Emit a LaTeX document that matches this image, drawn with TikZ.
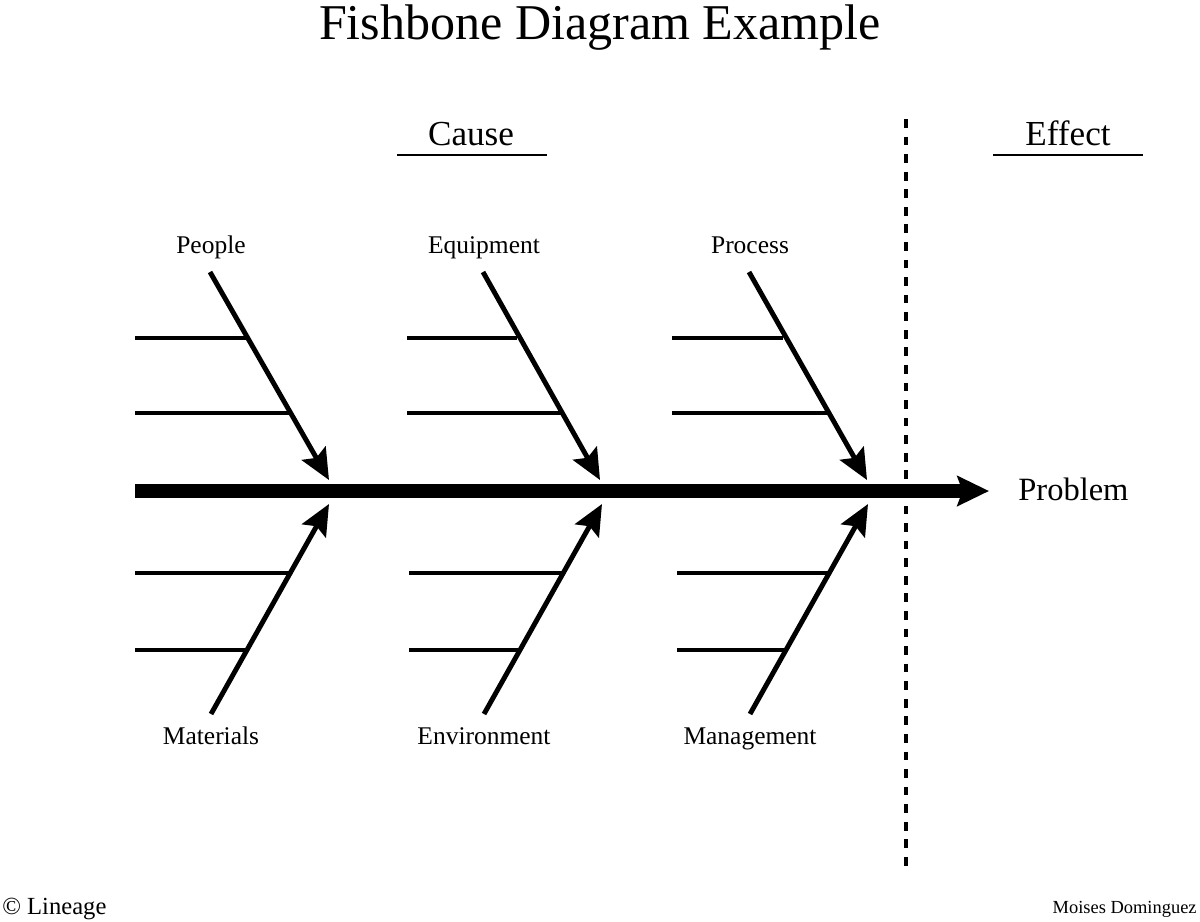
\documentclass[tikz,border=0pt]{standalone}
\usepackage{fontspec}
\setmainfont{Liberation Serif}
\usetikzlibrary{arrows.meta}
\begin{document}
\begin{tikzpicture}[x=0.02cm,y=-0.02cm,
  bone/.style={line width=2.8pt,-{Stealth[length=17.5pt,width=15.5pt,inset=3pt]}},
  rib/.style={line width=2.8pt},
  spine/.style={line width=8pt,-{Stealth[length=18pt,width=17pt,inset=3pt]}},
  cat/.style={font=\fontsize{14.5}{17}\selectfont,inner sep=0pt,anchor=base},
  head/.style={font=\fontsize{20}{24}\selectfont,inner sep=0pt,anchor=base},
  uline/.style={line width=1.6pt},
  divider/.style={line width=1.9pt,dash pattern=on 5pt off 5pt}]
\useasboundingbox[fill=white] (0,0) rectangle (1200,921);

% title
\node[font=\fontsize{28.5}{34}\selectfont,inner sep=0pt,anchor=base] (title) at (600,39) {Fishbone Diagram Example};

% headings
\node[head] (cause) at (471,145) {Cause};
\node[head] (effect) at (1068,145) {Effect};
\coordinate (cuL) at (397,155); \coordinate (cuR) at (547,155);
\coordinate (euL) at (993,155); \coordinate (euR) at (1143,155);
\draw[uline] (cuL) -- (cuR);
\draw[uline] (euL) -- (euR);

% divider
\coordinate (dvT) at (906,119); \coordinate (dvB) at (906,866);
\draw[divider] (dvT) -- (dvB);

% spine
\coordinate (spS) at (135,491);
\coordinate (spE) at (989,491);
\draw[spine] (spS) -- (spE);
\node[font=\fontsize{18.5}{22}\selectfont,inner sep=0pt,anchor=base west] (problem) at (1018,500) {Problem};

% upper bones
\foreach \n/\sx/\tx/\rx/\ra/\rb in {people/210/329/135/247/291, equip/483/600/407/517/561, proc/749/867/672/783/827}{
  \coordinate (\n S) at (\sx,272);
  \coordinate (\n T) at (\tx,480);
  \draw[bone] (\n S) -- (\n T);
  \coordinate (\n a0) at (\rx,338); \coordinate (\n a1) at (\ra,338);
  \coordinate (\n b0) at (\rx,413); \coordinate (\n b1) at (\rb,413);
  \draw[rib] (\n a0) -- (\n a1);
  \draw[rib] (\n b0) -- (\n b1);
}
% lower bones
\foreach \n/\sx/\tx/\rx/\ra/\rb in {mat/211/329/135/292/249, env/484/602/409/563/519, mgmt/750/868/677/831/787}{
  \coordinate (\n S) at (\sx,714);
  \coordinate (\n T) at (\tx,504);
  \draw[bone] (\n S) -- (\n T);
  \coordinate (\n a0) at (\rx,573); \coordinate (\n a1) at (\ra,573);
  \coordinate (\n b0) at (\rx,650); \coordinate (\n b1) at (\rb,650);
  \draw[rib] (\n a0) -- (\n a1);
  \draw[rib] (\n b0) -- (\n b1);
}

% category labels
\node[cat] (lPeople) at (211,253) {People};
\node[cat] (lEquip) at (484,253) {Equipment};
\node[cat] (lProc) at (750,253) {Process};
\node[cat] (lMat) at (211,744) {Materials};
\node[cat] (lEnv) at (484,744) {Environment};
\node[cat] (lMgmt) at (750,744) {Management};

% footer
\node[font=\fontsize{14}{17}\selectfont,inner sep=0pt,anchor=base west] (lineage) at (2,914) {© Lineage};
\node[font=\fontsize{10.5}{13}\selectfont,inner sep=0pt,anchor=base east] (author) at (1197,913) {Moises Dominguez};
\end{tikzpicture}
\end{document}
